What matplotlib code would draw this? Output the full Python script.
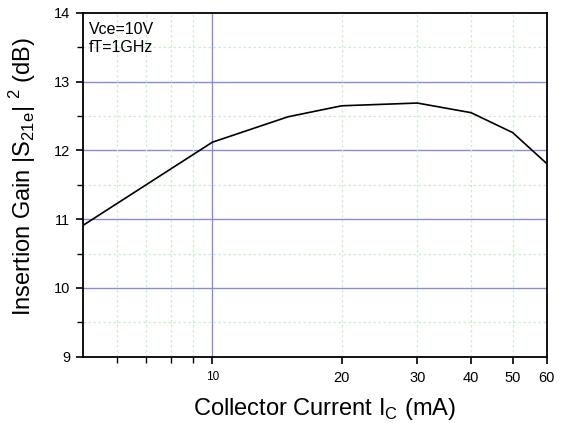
import matplotlib
matplotlib.use("Agg")
import matplotlib.pyplot as plt
from matplotlib.ticker import FixedLocator, NullFormatter, FixedFormatter

plt.rcParams['font.family'] = ['Liberation Sans', 'DejaVu Sans']
plt.rcParams['mathtext.fontset'] = 'custom'
plt.rcParams['mathtext.rm'] = 'Liberation Sans'

current_mA = [5, 10, 15, 20, 30, 40, 50, 60]
gain_dB = [10.91, 12.12, 12.49, 12.65, 12.69, 12.55, 12.26, 11.81]
xticks_major = [10, 20, 30, 40, 50, 60]
xtick_labels = ["10", "20", "30", "40", "50", "60"]
xticks_minor = [6, 7, 8, 9]
yticks = [9, 10, 11, 12, 13, 14]

fig = plt.figure(figsize=(5.66, 4.23), dpi=100)
ax = fig.add_axes([0.1466, 0.1567, 0.8193, 0.8126])
ax.set_xscale('log')
ax.set_xlim(5, 60)
ax.set_ylim(9, 14)

# grids
blue = '#8a8ad6'
green = '#cfeccf'
for y in [10, 11, 12, 13]:
    ax.axhline(y, color=blue, lw=1.0, zorder=1)
for y in [9.5, 10.5, 11.5, 12.5, 13.5]:
    ax.axhline(y, color=green, lw=0.9, ls=(0, (2, 2)), zorder=1)
ax.axvline(10, color=blue, lw=1.0, zorder=1)
for x in [6, 7, 8, 9, 20, 30, 40, 50]:
    ax.axvline(x, color=green, lw=0.9, ls=(0, (2, 2)), zorder=1)

ax.plot(current_mA, gain_dB, color='black', lw=1.2, zorder=3)

ax.xaxis.set_major_locator(FixedLocator(xticks_major))
ax.xaxis.set_major_formatter(FixedFormatter(xtick_labels))
ax.xaxis.set_minor_locator(FixedLocator(xticks_minor))
ax.xaxis.set_minor_formatter(NullFormatter())
ax.yaxis.set_major_locator(FixedLocator(yticks))
ax.yaxis.set_minor_locator(FixedLocator([9.5, 10.5, 11.5, 12.5, 13.5]))

ax.tick_params(which='major', direction='out', length=5, width=1.2, labelsize=10.5, pad=4, colors='black')
ax.tick_params(which='minor', direction='out', length=4, width=1.0)
ax.tick_params(axis='x', which='major', pad=5)
for lbl in ax.get_xticklabels():
    if lbl.get_text() == "10":
        lbl.set_fontsize(8.5)
for sp in ax.spines.values():
    sp.set_linewidth(1.3)

ax.set_xlabel(r'Collector Current I$_{\mathregular{C}}$ (mA)', fontsize=17)
ax.set_ylabel(r'Insertion Gain |S$_{\mathregular{21e}}$| $^{\mathregular{2}}$ (dB)', fontsize=17)
ax.xaxis.set_label_coords(0.52, -0.115, transform=ax.transAxes)
ax.yaxis.set_label_coords(-0.098, 0.525, transform=ax.transAxes)

ax.text(0.012, 0.975, 'Vce=10V\nfT=1GHz', transform=ax.transAxes, fontsize=11.5,
        va='top', ha='left', linespacing=1.3)

fig.savefig('out.png', dpi=100)
